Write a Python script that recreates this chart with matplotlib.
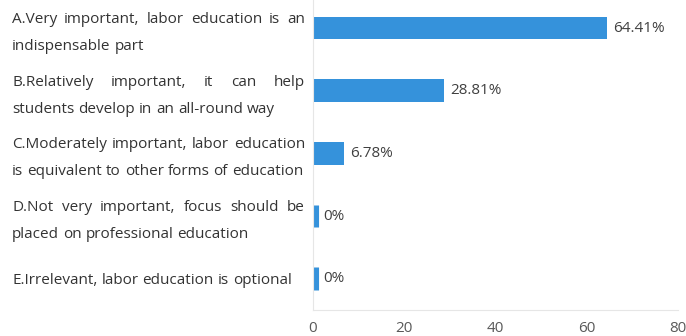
import matplotlib.pyplot as plt
from matplotlib.transforms import IdentityTransform

# Survey: how important is labor education
options = ["A", "B", "C", "D", "E"]
option_lines = [
    ["A.Very important, labor education is an", "indispensable part"],
    ["B.Relatively important, it can help", "students develop in an all-round way"],
    ["C.Moderately important, labor education", "is equivalent to other forms of education"],
    ["D.Not very important, focus should be", "placed on professional education"],
    ["E.Irrelevant, labor education is optional"],
]
shares = [64.41, 28.81, 6.78, 0, 0]
x_ticks = [0, 20, 40, 60, 80]

W, H = 686, 336
BAR_COLOR = "#3592db"
TEXT_COLOR = "#333333"
FONT = "Open Sans"
FS = 11

fig = plt.figure(figsize=(W / 100, H / 100), dpi=100)
fig.patch.set_facecolor("white")
ax = fig.add_axes([313 / W, 26 / H, 365 / W, 313.3 / H])

ypos = list(range(len(options)))
bar_h = 0.36
ax.barh(ypos, shares, height=bar_h, color=BAR_COLOR, zorder=2)

# zero answers still get a thin stub at the axis
for y, v in zip(ypos, shares):
    if v == 0:
        ax.plot([v, v], [y - bar_h / 2, y + bar_h / 2], color=BAR_COLOR,
                lw=8, solid_capstyle="butt", zorder=2)

for y, v in zip(ypos, shares):
    off = 4.5 if v > 0 else 7.5
    ax.annotate(f"{v:g}%", xy=(v, y), xytext=(off, 0), textcoords="offset points",
                va="center", ha="left", fontsize=FS, color="#404040", family=FONT)

ax.set_xlim(0, 80)
ax.set_ylim(len(options) - 0.5, -0.5)
ax.set_xticks(x_ticks)
ax.set_yticks([])
ax.tick_params(axis="x", length=0, pad=8, labelsize=FS, labelcolor="#595959")
for lab in ax.get_xticklabels():
    lab.set_family(FONT)
for side in ["top", "right"]:
    ax.spines[side].set_visible(False)
for side in ["left", "bottom"]:
    ax.spines[side].set_color("#e6e6e6")
    ax.spines[side].set_linewidth(0.8)

# category labels, justified like a text box on the left
renderer = fig.canvas.get_renderer()
x_left, x_right = 12, 305
style = dict(fontsize=FS, color=TEXT_COLOR, family=FONT, va="baseline", ha="left",
             transform=IdentityTransform())
probe = fig.text(0, 0, "a a", **style)
probe2 = fig.text(0, 0, "aa", **style)
space_w = probe.get_window_extent(renderer).width - probe2.get_window_extent(renderer).width
probe.remove()
probe2.remove()

for y, lines in zip(ypos, option_lines):
    yc = ax.transData.transform((0, y))[1]
    if len(lines) == 1:
        baselines = [yc - 5]
    else:
        baselines = [yc + 5, yc - 22]
    for k, (line, yb) in enumerate(zip(lines, baselines)):
        words = line.split()
        texts = [fig.text(0, yb, w, **style) for w in words]
        widths = [t.get_window_extent(renderer).width for t in texts]
        justify = len(lines) > 1 and k == 0
        gap = (x_right - x_left - sum(widths)) / (len(words) - 1) if justify else space_w
        x = x_left
        for t, w in zip(texts, widths):
            t.set_x(x)
            x += w + gap

fig.savefig("out.png", dpi=100, facecolor="white")
